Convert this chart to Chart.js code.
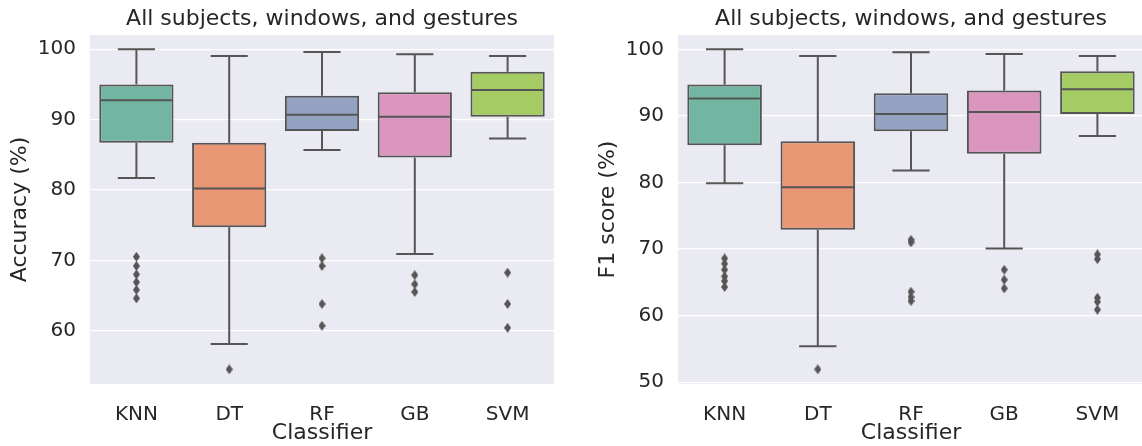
<!DOCTYPE html>
<html lang="en">

<head>
  <meta charset="UTF-8">
  <title>Classifier box plots</title>
  <style>
    body {
      margin: 0;
      width: 1142px;
      height: 446px;
      overflow: hidden;
      background: #ffffff;
      position: relative;
    }
    .panel {
      position: absolute;
      top: 0;
    }
  </style>
  <script src="https://cdn.jsdelivr.net/npm/chart.js"></script>
</head>

<body>
  <div class="panel" style="left:0px"><canvas id="accChart" width="560" height="446"></canvas></div>
  <div class="panel" style="left:588px"><canvas id="f1Chart" width="562" height="446"></canvas></div>
  <script>
    const classifiers = ['KNN', 'DT', 'RF', 'GB', 'SVM'];
    const boxColors = ['#72b6a1', '#e99675', '#95a3c3', '#db96c0', '#a4cb64'];

    // accuracy (%) - whisker ends, quartiles, median, fliers
    const accLow = [81.7, 58.1, 85.7, 70.9, 87.3];
    const accQ1 = [86.7, 74.7, 88.4, 84.6, 90.4];
    const accMedian = [92.75, 80.2, 90.7, 90.4, 94.2];
    const accQ3 = [95.0, 86.7, 93.4, 93.9, 96.8];
    const accHigh = [100.0, 99.05, 99.6, 99.3, 99.05];
    const accOutliers = [
      [70.5, 69.2, 68.0, 66.9, 65.8, 64.6],
      [54.5],
      [70.3, 69.2, 63.8, 60.7],
      [67.9, 66.6, 65.5],
      [68.25, 63.8, 60.4]
    ];

    // F1 score (%)
    const f1Low = [79.9, 55.4, 81.8, 70.1, 87.0];
    const f1Q1 = [85.6, 72.9, 87.7, 84.3, 90.3];
    const f1Median = [92.6, 79.3, 90.3, 90.6, 94.0];
    const f1Q3 = [94.7, 86.2, 93.4, 93.8, 96.7];
    const f1High = [100.0, 99.0, 99.55, 99.3, 99.0];
    const f1Outliers = [
      [68.6, 67.8, 66.9, 65.9, 65.2, 64.3],
      [51.95],
      [71.4, 71.0, 63.6, 62.8, 62.2],
      [66.9, 65.4, 64.1],
      [69.2, 68.5, 62.7, 62.1, 60.9]
    ];

    const FONT = 'DejaVu Sans';
    const TEXT = '#262626';
    const LINE = '#555555';

    // thin diamond used for the fliers
    const diamond = document.createElement('canvas');
    diamond.width = 7;
    diamond.height = 10;
    const dctx = diamond.getContext('2d');
    dctx.fillStyle = LINE;
    dctx.beginPath();
    dctx.moveTo(3.5, 0);
    dctx.lineTo(7, 5);
    dctx.lineTo(3.5, 10);
    dctx.lineTo(0, 5);
    dctx.closePath();
    dctx.fill();

    // grey axes background like seaborn darkgrid
    const plotBg = {
      id: 'plotBg',
      beforeDraw(chart) {
        const { ctx, chartArea: a } = chart;
        ctx.save();
        ctx.fillStyle = '#eaeaf2';
        ctx.fillRect(a.left, a.top, a.right - a.left, a.bottom - a.top);
        ctx.restore();
      }
    };

    // whiskers, caps and median lines, placed with the chart scales
    const boxLines = {
      id: 'boxLines',
      afterDatasetsDraw(chart, args, opts) {
        const { ctx, scales: { x, y } } = chart;
        const bars = chart.getDatasetMeta(0).data;
        ctx.save();
        ctx.strokeStyle = LINE;
        ctx.lineWidth = 2;
        ctx.lineCap = 'butt';
        const seg = (x1, y1, x2, y2) => {
          ctx.beginPath();
          ctx.moveTo(x1, y1);
          ctx.lineTo(x2, y2);
          ctx.stroke();
        };
        bars.forEach((bar, i) => {
          const cx = x.getPixelForValue(i);
          const half = bar.width / 2;
          const cap = half / 2;
          const yLow = y.getPixelForValue(opts.low[i]);
          const yHigh = y.getPixelForValue(opts.high[i]);
          seg(cx, y.getPixelForValue(opts.q3[i]), cx, yHigh);
          seg(cx, y.getPixelForValue(opts.q1[i]), cx, yLow);
          seg(cx - cap, yHigh, cx + cap, yHigh);
          seg(cx - cap, yLow, cx + cap, yLow);
          const yMed = y.getPixelForValue(opts.median[i]);
          seg(cx - half + 1, yMed, cx + half - 1, yMed);
        });
        ctx.restore();
      }
    };

    function makeBoxChart(id, yLabel, q1, q3, median, low, high, outliers, yMin, yMax) {
      const fliers = [];
      outliers.forEach((list, i) => {
        list.forEach(v => fliers.push({ x: classifiers[i], y: v }));
      });
      return new Chart(document.getElementById(id), {
        type: 'bar',
        data: {
          labels: classifiers,
          datasets: [
            {
              data: classifiers.map((c, i) => [q1[i], q3[i]]),
              backgroundColor: boxColors,
              borderColor: LINE,
              borderWidth: 2,
              borderSkipped: false,
              barPercentage: 0.8,
              categoryPercentage: 1.0,
              order: 2
            },
            {
              type: 'line',
              data: fliers,
              showLine: false,
              pointStyle: diamond,
              pointRadius: 5,
              order: 1
            }
          ]
        },
        options: {
          responsive: false,
          animation: false,
          devicePixelRatio: 1,
          layout: { padding: 0 },
          plugins: {
            legend: { display: false },
            tooltip: { enabled: false },
            title: {
              display: true,
              text: 'All subjects, windows, and gestures',
              fullSize: false,
              color: TEXT,
              font: { family: FONT, size: 22, weight: 'normal' },
              padding: { top: 6, bottom: 2.6 }
            },
            boxLines: { q1, q3, median, low, high }
          },
          scales: {
            x: {
              grid: { display: false },
              border: { display: false },
              ticks: { color: TEXT, font: { family: FONT, size: 20 }, padding: 11 },
              title: {
                display: true,
                text: 'Classifier',
                color: TEXT,
                font: { family: FONT, size: 22 },
                padding: { top: 0, bottom: 0 }
              },
              afterFit(scale) { scale.height = 62; }
            },
            y: {
              min: yMin,
              max: yMax,
              border: { display: false },
              grid: { color: '#ffffff', lineWidth: 1.3, drawTicks: false },
              ticks: {
                stepSize: 10,
                includeBounds: false,
                color: TEXT,
                font: { family: FONT, size: 20 },
                padding: 14
              },
              title: {
                display: true,
                text: yLabel,
                color: TEXT,
                font: { family: FONT, size: 22 },
                padding: { top: 7, bottom: 0 }
              },
              afterFit(scale) { scale.width = 90; }
            }
          }
        },
        plugins: [plotBg, boxLines]
      });
    }

    makeBoxChart('accChart', 'Accuracy (%)', accQ1, accQ3, accMedian, accLow, accHigh, accOutliers, 52.42, 102.03);
    makeBoxChart('f1Chart', 'F1 score (%)', f1Q1, f1Q3, f1Median, f1Low, f1High, f1Outliers, 49.74, 102.15);
  </script>
</body>

</html>
